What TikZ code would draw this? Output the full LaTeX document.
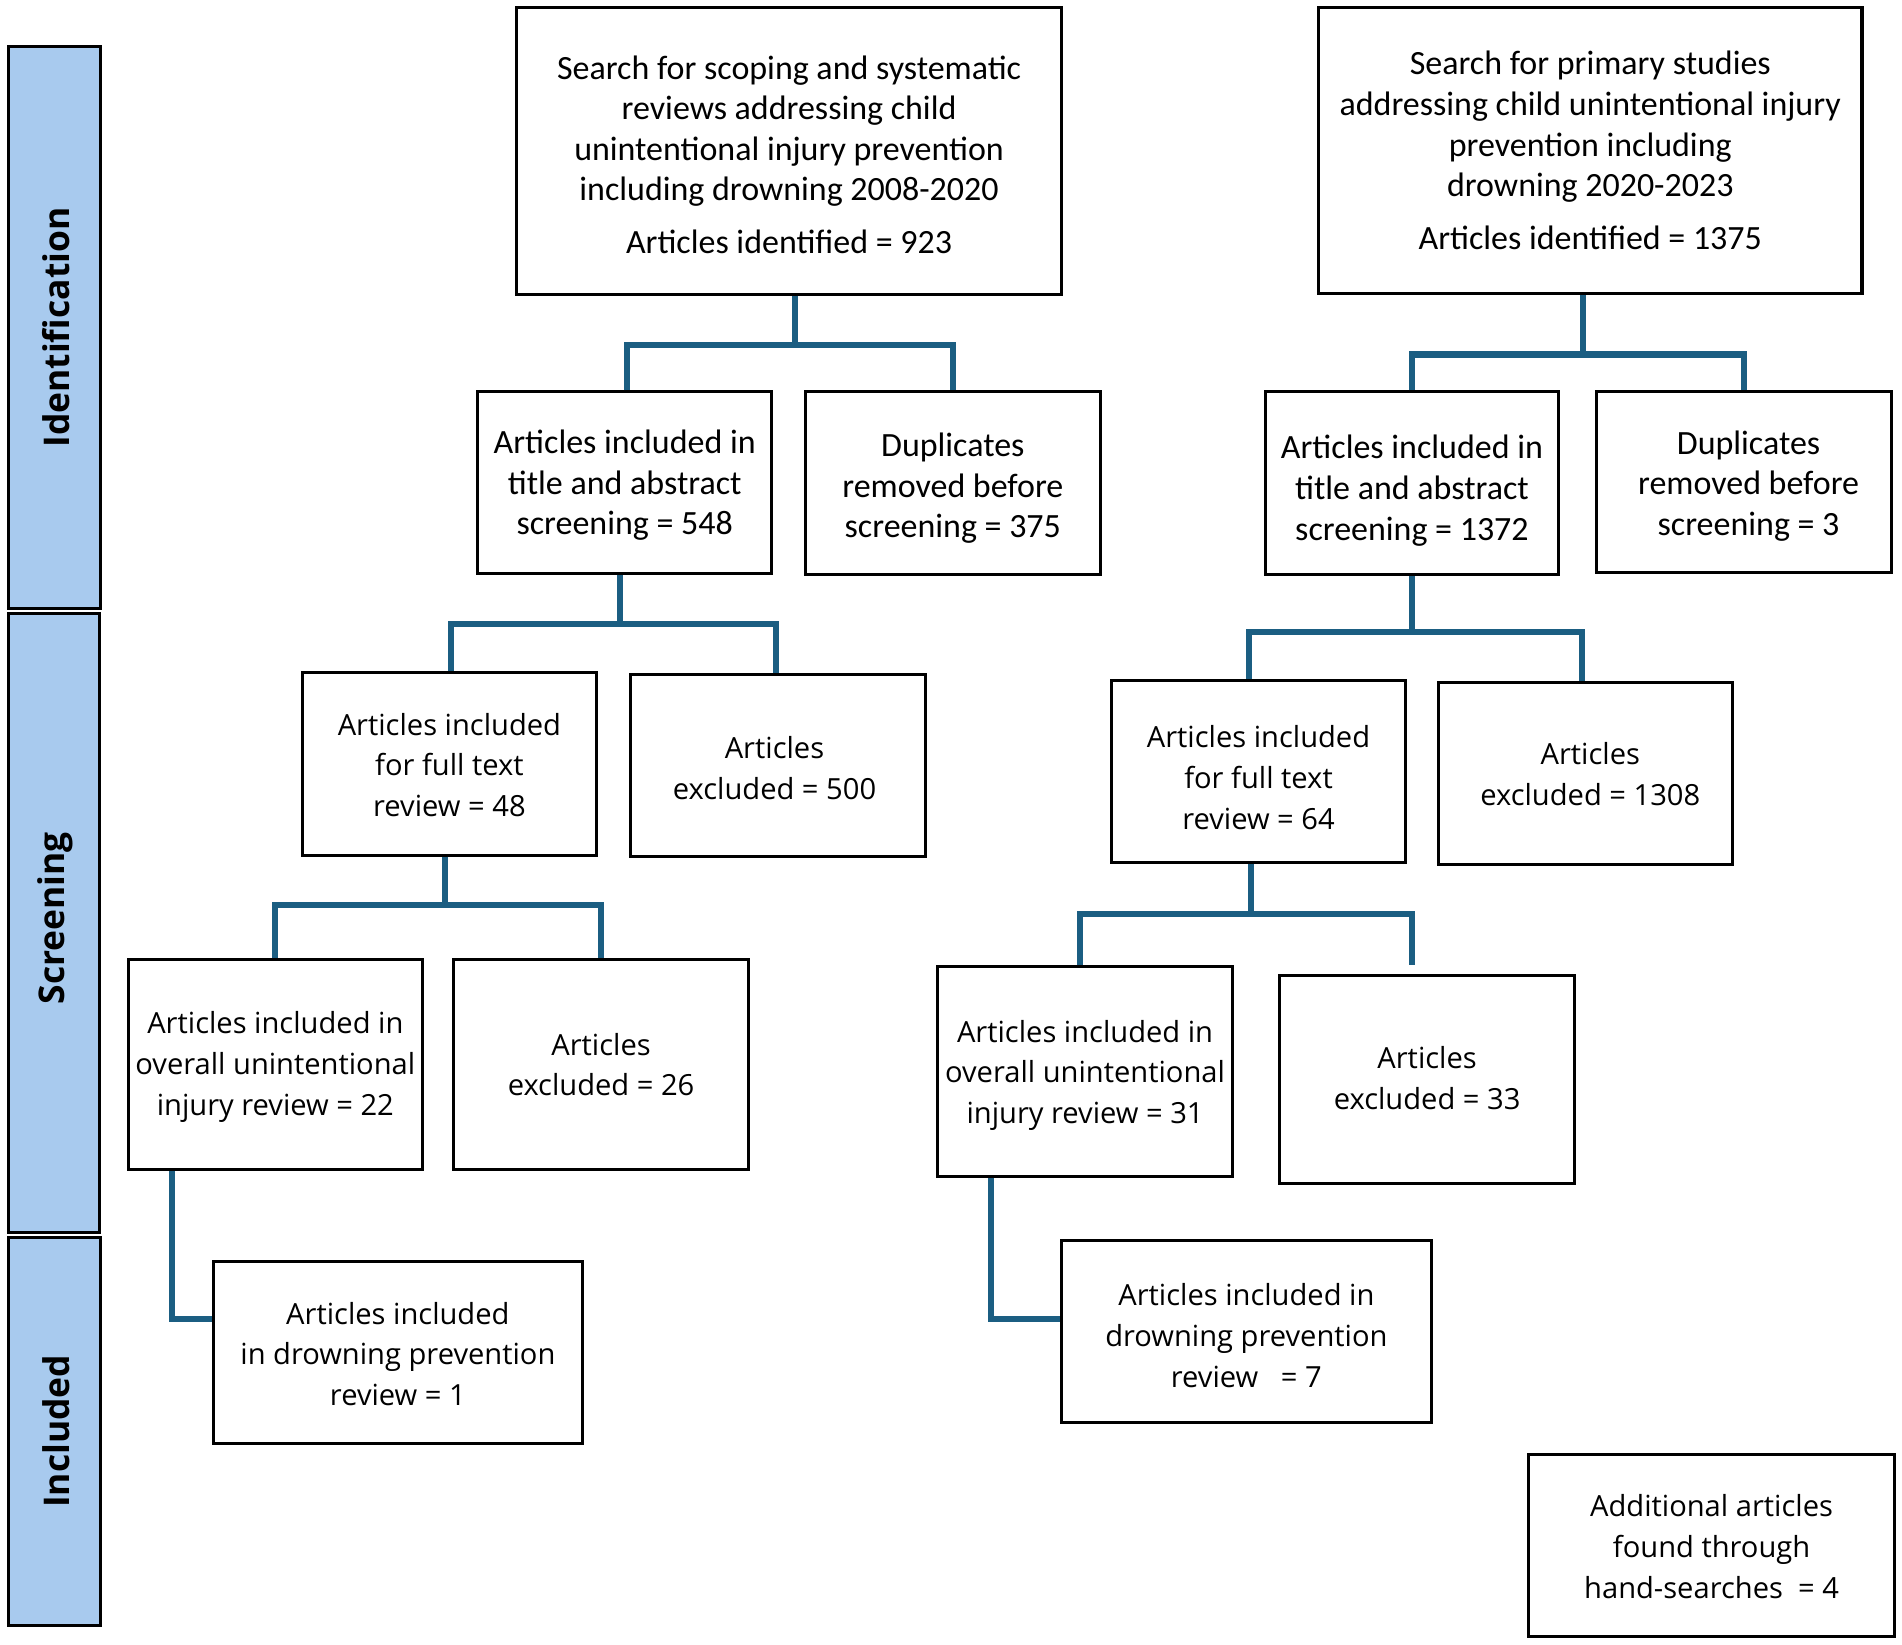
\documentclass[tikz,border=0pt]{standalone}
\usepackage{fontspec}
\setmainfont{Open Sans}
\newfontfamily\calfont{Carlito}
\newfontfamily\osfont{Open Sans}
\usetikzlibrary{fit}
\definecolor{sidefill}{HTML}{A8CAEE}
\definecolor{conncol}{HTML}{1B5E82}
\newcommand{\flowbox}[6]{%
  \node[frame, fit={#3 #4}] (#1) {};
  \node[#2] (#1t) at ([#5]#1.center) {#6};}
\begin{document}
\begin{tikzpicture}[x=0.5pt,y=-0.5pt,
  frame/.style={draw=black, line width=1.25pt, inner sep=0pt, fill=white},
  toptext/.style={inner sep=0pt, align=center, font=\calfont\fontsize{14}{16.75}\selectfont},
  lowtext/.style={inner sep=0pt, align=center, font=\osfont\fontsize{12}{16.75}\selectfont},
  side/.style={draw=black, line width=1.25pt, fill=sidefill, inner sep=0pt},
  sidelabel/.style={rotate=90, inner sep=0pt, font=\osfont\bfseries\fontsize{14.6}{17}\selectfont},
  conn/.style={draw=conncol, line width=2.5pt, line join=miter}]
\useasboundingbox (0,0) rectangle (1568,1356);

% side bars
\node[side, fit={(7,38) (83,502)}] (sid) {};
\node[sidelabel] (sidt) at ([xshift=0.5pt]sid.center) {Identification};
\node[side, fit={(7,506) (82,1016)}] (sscr) {};
\node[sidelabel] (sscrt) at ([xshift=0.5pt,yshift=2pt]sscr.center) {Screening};
\node[side, fit={(7,1020) (83,1340)}] (sinc) {};
\node[sidelabel] (sinct) at ([xshift=0.5pt]sinc.center) {Included};

% boxes
\flowbox{s1}{toptext}{(426,6)}{(875,243)}{yshift=-1.5pt}{Search for scoping and systematic\\reviews addressing child\\unintentional injury prevention\\including drowning 2008-2020\\[5pt]Articles identified = 923}
\flowbox{s2}{toptext}{(1087,6)}{(1535,242)}{yshift=0pt}{Search for primary studies\\addressing child unintentional injury\\prevention including\\drowning 2020-2023\\[5pt]Articles identified = 1375}

\flowbox{a548}{toptext}{(394,323)}{(636,473)}{yshift=-1pt}{Articles included in\\title and abstract\\screening = 548}
\flowbox{d375}{toptext}{(664,323)}{(907,474)}{yshift=-2pt}{Duplicates\\removed before\\screening = 375}
\flowbox{a1372}{toptext}{(1043,323)}{(1285,474)}{yshift=-3pt}{Articles included in\\title and abstract\\screening = 1372}
\flowbox{d3}{toptext}{(1316,323)}{(1559,472)}{xshift=2pt,yshift=-1.5pt}{Duplicates\\removed before\\screening = 3}

\flowbox{f48}{lowtext}{(249,554)}{(492,705)}{yshift=-0.5pt}{Articles included\\for full text\\review = 48}
\flowbox{e500}{lowtext}{(520,556)}{(763,706)}{xshift=-1.5pt,yshift=-1pt}{Articles\\excluded = 500}
\flowbox{f64}{lowtext}{(916,561)}{(1159,711)}{yshift=-2.5pt}{Articles included\\for full text\\review = 64}
\flowbox{e1308}{lowtext}{(1186,563)}{(1428,713)}{xshift=2pt,yshift=0pt}{Articles\\excluded = 1308}

\flowbox{o22}{lowtext}{(106,791)}{(348,964)}{yshift=-1pt}{Articles included in\\overall unintentional\\injury review = 22}
\flowbox{e26}{lowtext}{(374,791)}{(617,964)}{yshift=0pt}{Articles\\excluded = 26}
\flowbox{o31}{lowtext}{(773,797)}{(1016,970)}{yshift=-1.5pt}{Articles included in\\overall unintentional\\injury review = 31}
\flowbox{e33}{lowtext}{(1055,804)}{(1298,976)}{yshift=0.5pt}{Articles\\excluded = 33}

\flowbox{dr1}{lowtext}{(176,1040)}{(480,1190)}{yshift=-0.5pt}{Articles included\\in drowning prevention\\review = 1}
\flowbox{dr7}{lowtext}{(875,1023)}{(1180,1173)}{yshift=-1.5pt}{Articles included in\\drowning prevention\\review \ \ = 7}
\flowbox{add}{lowtext}{(1260,1199)}{(1562,1349)}{yshift=-0.5pt}{Additional articles\\found through\\hand-searches \ = 4}

% connectors
\coordinate (j1) at ([xshift=2.25pt,yshift=-20pt]s1.south);
\draw[conn] ([xshift=2.25pt]s1.south) -- (j1);
\draw[conn] ([xshift=1pt]a548.north) |- (j1) -| (d375.north);

\coordinate (j2) at ([xshift=-3pt,yshift=-24.5pt]s2.south);
\draw[conn] ([xshift=-3pt]s2.south) -- (j2);
\draw[conn] (a1372.north) |- (j2) -| (d3.north);

\coordinate (j3) at ([xshift=-2pt,yshift=-20pt]a548.south);
\draw[conn] ([xshift=-2pt]a548.south) -- (j3);
\draw[conn] ([xshift=0.75pt]f48.north) |- (j3) -| ([xshift=-0.75pt]e500.north);

\coordinate (j4) at ([yshift=-23pt]a1372.south);
\draw[conn] (a1372.south) -- (j4);
\draw[conn] ([xshift=-3.75pt]f64.north) |- (j4) -| ([xshift=-1.5pt]e1308.north);

\coordinate (j5) at ([xshift=-1.75pt,yshift=-20pt]f48.south);
\draw[conn] ([xshift=-1.75pt]f48.south) -- (j5);
\draw[conn] (o22.north) |- (j5) -| (e26.north);

\coordinate (j6) at ([xshift=-3.25pt,yshift=-20.5pt]f64.south);
\draw[conn] ([xshift=-3.25pt]f64.south) -- (j6);
\draw[conn] ([xshift=-2.25pt]o31.north) |- (j6) -| ([xshift=-6.25pt,yshift=3.5pt]e33.north);

\draw[conn] ([xshift=18.5pt]o22.south west) |- ([yshift=14pt]dr1.west);
\draw[conn] ([xshift=22.5pt]o31.south west) |- ([yshift=5.5pt]dr7.west);
\end{tikzpicture}
\end{document}
